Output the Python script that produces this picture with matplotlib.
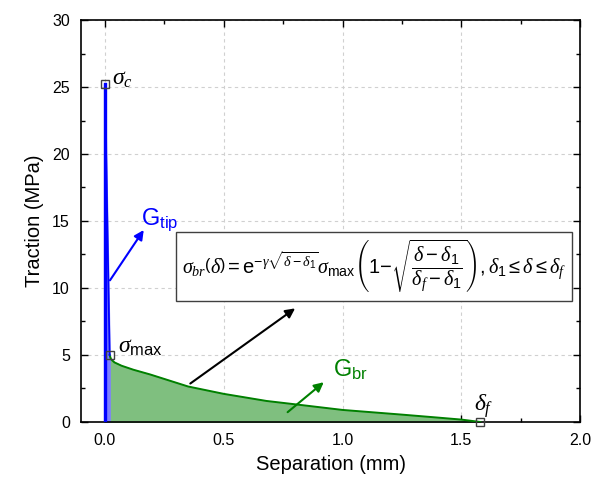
import matplotlib
matplotlib.use("Agg")
import matplotlib.pyplot as plt
from matplotlib.ticker import MultipleLocator

plt.rcParams['font.family'] = ['Liberation Sans', 'DejaVu Sans']
plt.rcParams['mathtext.fontset'] = 'custom'
plt.rcParams['mathtext.rm'] = 'Liberation Sans'
plt.rcParams['mathtext.it'] = 'Liberation Serif:italic'
plt.rcParams['mathtext.bf'] = 'Liberation Sans:bold'

# Tip (cohesive) segment
tip_x = [0.0, 0.0, 0.02]
tip_y = [0.0, 25.2, 5.0]

# Bridging segment
br_x = [0.02, 0.025, 0.04, 0.07, 0.12, 0.19, 0.27, 0.35, 0.5, 0.68, 0.81, 1.0, 1.25, 1.4, 1.5, 1.58]
br_y = [5.0, 4.7, 4.45, 4.2, 3.9, 3.55, 3.1, 2.65, 2.1, 1.57, 1.3, 0.9, 0.55, 0.33, 0.18, 0.0]

# Key points
key_x = [0.0, 0.02, 1.58]
key_y = [25.2, 5.0, 0.0]

x_ticks = [0.0, 0.5, 1.0, 1.5, 2.0]
y_ticks = [0, 5, 10, 15, 20, 25, 30]

fig = plt.figure(figsize=(5.92, 4.82), dpi=100)
ax = fig.add_axes([0.137, 0.1245, 0.843, 0.834])

ax.fill_between(br_x, br_y, 0, color='#7fbf7f', zorder=2)
ax.plot(br_x, br_y, color='#008000', lw=1.4, zorder=3)

ax.fill_between([tip_x[1], tip_x[2]], [tip_y[1], tip_y[2]], 0, color='#7f7fff', zorder=2)
ax.plot(tip_x, tip_y, color='#0000ff', lw=1.3, zorder=3)
ax.plot([0.0, 0.0], [0.0, 25.2], color='#0000ff', lw=2.4, zorder=3)

ax.plot(key_x, key_y, ls='none', marker='s', ms=6, mfc='none', mec='#404040', mew=1.0, zorder=5, clip_on=False)

ax.set_xlim(-0.1, 2.0)
ax.set_ylim(0, 30)
ax.set_xticks(x_ticks)
ax.set_yticks(y_ticks)
ax.set_xticklabels(['%.1f' % v for v in x_ticks])
ax.set_yticklabels([str(v) for v in y_ticks])
ax.xaxis.set_minor_locator(MultipleLocator(0.25))
ax.yaxis.set_minor_locator(MultipleLocator(2.5))
ax.tick_params(which='both', direction='in', top=True, right=True, labelsize=11.5, width=1.0)
ax.tick_params(which='major', length=5, pad=8)
ax.tick_params(which='minor', length=3)
for s in ax.spines.values():
    s.set_linewidth(1.2)
ax.grid(True, which='major', ls=(0, (3, 3)), color='#d0d0d0', lw=0.8, zorder=0)
ax.set_axisbelow(True)

ax.set_xlabel('Separation (mm)', fontsize=14.5, labelpad=5)
ax.set_ylabel('Traction (MPa)', fontsize=14.5, labelpad=6)

ax.text(0.03, 25.6, r'$\sigma_c$', fontsize=17, ha='left', va='center', zorder=6)
ax.text(0.055, 5.6, r'$\sigma_{\mathrm{max}}$', fontsize=17, ha='left', va='center', zorder=6)
ax.text(1.555, 1.15, r'$\delta_f$', fontsize=17, ha='left', va='center', zorder=6)

ax.annotate('', xy=(0.17, 14.5), xytext=(0.015, 10.4),
            arrowprops=dict(arrowstyle='-|>', color='#0000ff', lw=1.5, mutation_scale=14), zorder=6)
ax.text(0.15, 14.75, r'$\mathrm{G}_{\mathrm{tip}}$', color='#0000ff', fontsize=17, ha='left', va='baseline', zorder=6)

ax.annotate('', xy=(0.93, 3.1), xytext=(0.76, 0.6),
            arrowprops=dict(arrowstyle='-|>', color='#008000', lw=1.5, mutation_scale=14), zorder=6)
ax.text(0.96, 3.35, r'$\mathrm{G}_{\mathrm{br}}$', color='#008000', fontsize=17, ha='left', va='baseline', zorder=6)

ax.annotate('', xy=(0.81, 8.6), xytext=(0.35, 2.75),
            arrowprops=dict(arrowstyle='-|>', color='black', lw=1.5, mutation_scale=14), zorder=6)

eq = (r'$\sigma_{br}\left(\delta\right)=\mathrm{e}^{-\gamma\sqrt{\delta-\delta_1}}\sigma_{\mathrm{max}}'
      r'\left(1\mathrm{-}\sqrt{\dfrac{\delta-\delta_1}{\delta_f-\delta_1}}\right),\delta_1\leq\delta\leq\delta_f$')
ax.text(1.132, 11.6, eq, fontsize=14.5, ha='center', va='center', zorder=7,
        bbox=dict(boxstyle='square,pad=0.3', fc='white', ec='#404040', lw=1.0))

fig.savefig('out.png', dpi=100)
